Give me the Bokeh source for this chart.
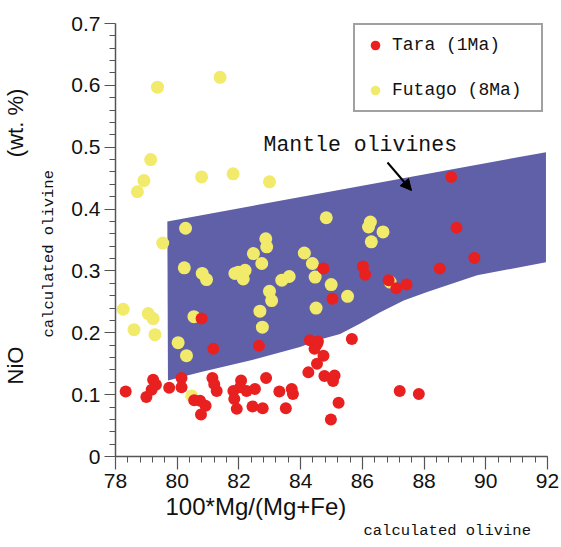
from bokeh.plotting import figure
from bokeh.models import Range1d, FixedTicker, Label, Arrow, NormalHead, Title
from bokeh.embed import file_html
from bokeh.resources import INLINE

# ---------------- data ----------------
x_ticks = [78, 80, 82, 84, 86, 88, 90, 92]
y_ticks = [0.0, 0.1, 0.2, 0.3, 0.4, 0.5, 0.6, 0.7]
y_tick_labels = ["0", "0.1", "0.2", "0.3", "0.4", "0.5", "0.6", "0.7"]

# Mantle olivine field (outline of the shaded region)
mantle_x = [79.68, 91.95, 91.95, 89.72, 88.10, 87.34, 86.58, 85.93, 85.28,
            84.63, 83.98, 82.36, 80.74, 79.70]
mantle_y = [0.380, 0.492, 0.314, 0.293, 0.266, 0.252, 0.233, 0.215, 0.198,
            0.189, 0.177, 0.155, 0.136, 0.123]

# Futago (8Ma)
futago_x = [79.36, 81.39, 79.14, 78.92, 78.71, 80.79, 81.81, 82.99, 84.83, 80.27,
            79.53, 82.87, 82.90, 82.47, 82.74, 80.23, 80.81, 80.95, 81.98, 82.20,
            82.14, 81.87, 84.12, 84.38, 84.47, 84.99, 83.39, 83.63, 82.99, 83.06,
            78.25, 79.06, 79.22, 78.60, 79.28, 80.54, 80.03, 80.30, 82.68, 82.76,
            84.50, 80.47, 86.26, 86.20, 86.67, 86.29, 85.52, 86.90]
futago_y = [0.597, 0.613, 0.480, 0.446, 0.428, 0.452, 0.457, 0.444, 0.386, 0.369,
            0.345, 0.352, 0.339, 0.328, 0.312, 0.305, 0.296, 0.286, 0.298, 0.301,
            0.287, 0.296, 0.329, 0.312, 0.290, 0.278, 0.285, 0.291, 0.267, 0.252,
            0.238, 0.231, 0.223, 0.205, 0.197, 0.226, 0.184, 0.163, 0.235, 0.209,
            0.240, 0.098, 0.379, 0.371, 0.363, 0.347, 0.259, 0.282]

# Tara (1Ma)
tara_x = [78.33, 79.00, 79.22, 79.31, 79.17, 79.74, 80.14, 80.14, 80.55, 80.74,
          80.92, 80.77, 81.14, 81.20, 81.28, 81.82, 81.85, 81.93, 82.07, 82.04,
          82.25, 82.52, 82.44, 82.77, 82.88, 83.31, 83.71, 83.75, 83.52, 84.25,
          84.53, 84.74, 84.77, 84.53, 84.30, 84.45, 84.56, 85.10, 85.05, 85.23,
          84.98, 85.66, 87.21, 87.83, 80.79, 81.17, 82.65, 85.03, 84.74, 86.02,
          86.09, 86.85, 87.10, 87.43, 88.88, 89.05, 89.63, 88.51]
tara_y = [0.105, 0.096, 0.124, 0.116, 0.108, 0.111, 0.127, 0.112, 0.091, 0.090,
          0.082, 0.068, 0.127, 0.117, 0.106, 0.106, 0.093, 0.077, 0.123, 0.112,
          0.106, 0.109, 0.081, 0.078, 0.127, 0.105, 0.109, 0.101, 0.078, 0.136,
          0.150, 0.163, 0.130, 0.182, 0.188, 0.174, 0.186, 0.131, 0.122, 0.087,
          0.060, 0.190, 0.106, 0.101, 0.223, 0.174, 0.179, 0.255, 0.304, 0.307,
          0.294, 0.285, 0.272, 0.278, 0.452, 0.370, 0.321, 0.304]

# ---------------- figure ----------------
W, H = 561, 547
L, R, T, B = 115, 14, 23, 91
X0, X1, Y0, Y1 = 78, 92, 0.0, 0.7


def sx(px):
    return X0 + (px - L) * (X1 - X0) / (W - L - R)


def sy(py):
    return Y0 + (H - B - py) * (Y1 - Y0) / (H - T - B)


p = figure(width=W, height=H, x_range=Range1d(X0, X1), y_range=Range1d(Y0, Y1),
           output_backend="svg", toolbar_location=None,
           min_border_left=L, min_border_right=R, min_border_top=T, min_border_bottom=B)
p.outline_line_color = None
p.xgrid.visible = False
p.ygrid.visible = False
p.background_fill_color = "white"
p.border_fill_color = "white"

axis_col = "#555555"
txt_col = "#111111"

p.xaxis.ticker = FixedTicker(ticks=x_ticks,
                             minor_ticks=[78 + 0.4 * i for i in range(36)])
p.yaxis.ticker = FixedTicker(ticks=y_ticks,
                             minor_ticks=[0.02 * i for i in range(36)])
p.yaxis.major_label_overrides = {t: s for t, s in zip(y_ticks, y_tick_labels)}

for ax in (p.xaxis[0], p.yaxis[0]):
    ax.axis_line_color = axis_col
    ax.axis_line_width = 1.5
    ax.major_tick_line_color = axis_col
    ax.minor_tick_line_color = axis_col
    ax.major_tick_line_width = 1.2
    ax.minor_tick_line_width = 1
    ax.major_tick_in = 0
    ax.minor_tick_in = 0
    ax.major_label_text_font = "Liberation Sans"
    ax.major_label_text_font_size = "21px"
    ax.major_label_text_color = txt_col

p.yaxis.major_tick_out = 11
p.yaxis.minor_tick_out = 6
p.yaxis.major_label_standoff = 4
p.xaxis.major_tick_out = 13
p.xaxis.minor_tick_out = 6
p.xaxis.major_label_standoff = 4

# mantle field
p.patch(mantle_x, mantle_y, fill_color="#6060a8", line_color=None)

# points
p.scatter(futago_x, futago_y, size=13, fill_color="#f2ea6a", line_color=None,
          legend_label="Futago (8Ma)")
p.scatter(tara_x, tara_y, size=12, fill_color="#e8201f", line_color=None,
          legend_label="Tara (1Ma)")

lg = p.legend[0]
lg.items = list(reversed(lg.items))
lg.location = (238, 344)
lg.margin = 0
lg.padding = 8
lg.spacing = 21
lg.glyph_width = 24
lg.glyph_height = 24
lg.label_height = 24
lg.label_width = 141
lg.label_standoff = 5
lg.label_text_font = "Liberation Mono"
lg.label_text_font_size = "18px"
lg.label_text_color = txt_col
lg.border_line_color = "#444444"
lg.border_line_width = 2
lg.background_fill_color = "white"
lg.background_fill_alpha = 1

# annotation inside the frame
p.add_layout(Label(x=sx(263), y=sy(144), text="Mantle olivines",
                   text_font="Liberation Mono", text_font_size="21.5px",
                   text_color=txt_col, text_baseline="middle", text_align="left"))
p.add_layout(Arrow(end=NormalHead(size=11, fill_color="black", line_color="black"),
                   x_start=sx(387), y_start=sy(162), x_end=sx(411), y_end=sy(190),
                   line_width=2, line_color="black"))


# axis titles as Title panels (stacked outward from the axes)
def side_title(text, font, size, offset, standoff):
    return Title(text=text, align="left", offset=offset, standoff=standoff,
                 text_font=font, text_font_size=size, text_color=txt_col,
                 text_font_style="normal")


p.add_layout(side_title("100*Mg/(Mg+Fe)", "Liberation Sans", "24px", 165 - L, 0), "below")
p.add_layout(side_title("calculated olivine", "Liberation Mono", "15.5px", 363 - L, 0), "below")

p.add_layout(side_title("calculated olivine", "Liberation Mono", "15.5px", (H - B) - 337, 21), "left")
gap = "\u00a0" * 31
p.add_layout(side_title("NiO" + gap + "(wt. %)", "Liberation Sans", "22px", (H - B) - 384, 0), "left")

open("out.html", "w").write(file_html(p, INLINE))
